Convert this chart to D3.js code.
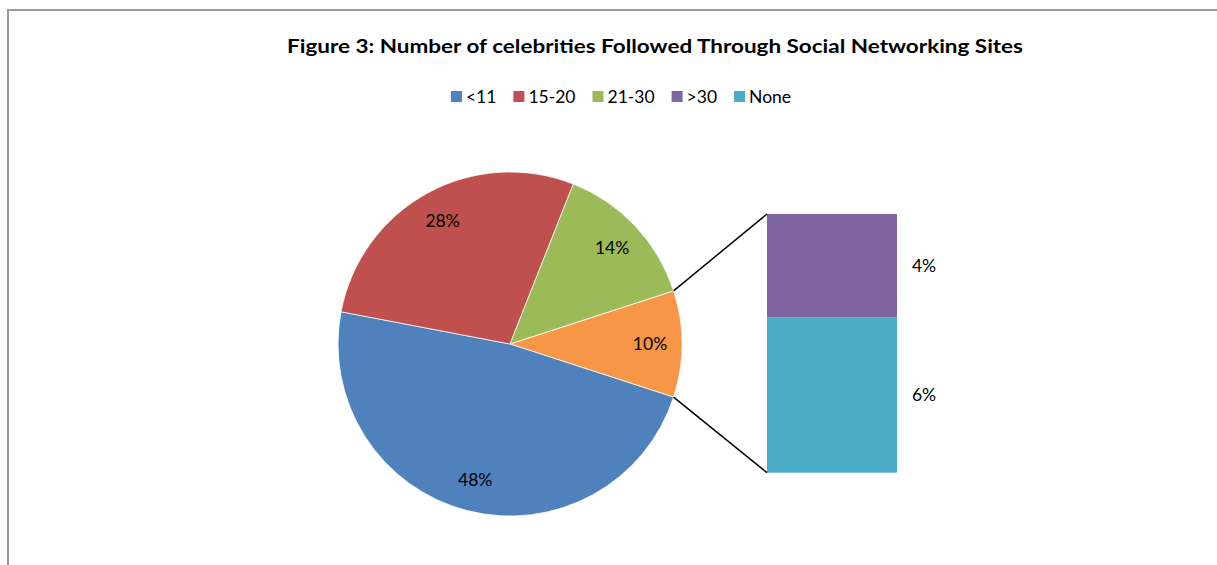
<!DOCTYPE html>
<html>
<head>
<meta charset="utf-8">
<script src="https://cdn.jsdelivr.net/npm/d3@7"></script>
<style>
  html, body { margin: 0; padding: 0; background: #fff; }
  svg { display: block; }
  text { font-family: Lato, "Open Sans", "Noto Sans", sans-serif; fill: #000; }
</style>
</head>
<body>
<svg id="chart" width="1217" height="565"></svg>
<script>
// Legend order and colours
const categories = ["<11", "15-20", "21-30", ">30", "None"];
const colors = ["#4F81BD", "#C0504D", "#9BBB59", "#8064A2", "#4BACC6"];

// Main pie: three categories plus an "Other" slice that is broken out into the bar
const pieLabels = ["Other", "<11", "15-20", "21-30"];
const pieValues = [10, 48, 28, 14];
const pieColors = ["#F79646", "#4F81BD", "#C0504D", "#9BBB59"];

// Secondary stacked bar: the contents of "Other", bottom to top
const barLabels = ["None", ">30"];
const barValues = [6, 4];
const barColors = ["#4BACC6", "#8064A2"];

const title = "Figure 3: Number of celebrities Followed Through Social Networking Sites";

const svg = d3.select("#chart");

// Chart frame
svg.append("rect")
  .attr("x", 8).attr("y", 10)
  .attr("width", 1400).attr("height", 800)
  .attr("fill", "none")
  .attr("stroke", "#9a9a9a")
  .attr("stroke-width", 2);

// Title
svg.append("text")
  .attr("x", 655).attr("y", 53)
  .attr("text-anchor", "middle")
  .attr("font-size", 18.5)
  .attr("font-weight", "bold")
  .attr("textLength", 736)
  .attr("lengthAdjust", "spacingAndGlyphs")
  .text(title);

// Legend, laid out from measured label widths and centred
const legend = svg.append("g");
const legendFont = 17.5;
const sq = 11, gapText = 4, gapItem = 17;
let lx = 0;
categories.forEach((c, i) => {
  const g = legend.append("g").attr("transform", `translate(${lx},0)`);
  g.append("rect").attr("x", 0).attr("y", -sq / 2).attr("width", sq).attr("height", sq).attr("fill", colors[i]);
  const t = g.append("text")
    .attr("x", sq + gapText).attr("y", 0)
    .attr("dy", "0.35em")
    .attr("font-size", legendFont)
    .text(c);
  lx += sq + gapText + t.node().getComputedTextLength() + gapItem;
});
const legendWidth = lx - gapItem;
legend.attr("transform", `translate(${621 - legendWidth / 2},96.5)`);

// Pie
const cx = 510, cy = 344, R = 172;
const labelR = 140;
// "Other" slice is centred on the right (3 o'clock); remaining slices follow clockwise
const otherAngle = pieValues[0] / d3.sum(pieValues) * 2 * Math.PI;
const start = Math.PI / 2 - otherAngle / 2;
const pie = d3.pie().sort(null).startAngle(start).endAngle(start + 2 * Math.PI);
const arcs = pie(pieValues);
const arc = d3.arc().innerRadius(0).outerRadius(R);
const labelArc = d3.arc().innerRadius(labelR).outerRadius(labelR);

const pg = svg.append("g").attr("transform", `translate(${cx},${cy})`);
pg.selectAll("path")
  .data(arcs)
  .join("path")
  .attr("d", arc)
  .attr("fill", (d, i) => pieColors[i])
  .attr("stroke", "#fff")
  .attr("stroke-width", 0.75);

pg.selectAll("text")
  .data(arcs)
  .join("text")
  .attr("transform", d => `translate(${labelArc.centroid(d)})`)
  .attr("text-anchor", "middle")
  .attr("dy", "0.35em")
  .attr("font-size", 17.5)
  .text(d => d.value + "%");

// Stacked bar for the broken-out slice
const barX0 = 767, barW = 130;
const y = d3.scaleLinear().domain([0, d3.sum(barValues)]).range([472.7, 214]);
const stacked = [];
let acc = 0;
barValues.forEach((v, i) => { stacked.push({ v, y0: acc, y1: acc + v, i }); acc += v; });

svg.selectAll("rect.bar")
  .data(stacked)
  .join("rect")
  .attr("class", "bar")
  .attr("x", barX0)
  .attr("width", barW)
  .attr("y", d => y(d.y1))
  .attr("height", d => y(d.y0) - y(d.y1))
  .attr("fill", d => barColors[d.i]);

svg.selectAll("text.barlabel")
  .data(stacked)
  .join("text")
  .attr("class", "barlabel")
  .attr("x", 924)
  .attr("y", d => (y(d.y0) + y(d.y1)) / 2)
  .attr("dy", "0.35em")
  .attr("text-anchor", "middle")
  .attr("font-size", 17.5)
  .text(d => d.v + "%");

// Connector lines from the edges of the "Other" slice to the bar corners
const otherArc = arcs[0];
const edgePoint = a => [cx + R * Math.sin(a), cy - R * Math.cos(a)];
const upperEdge = edgePoint(otherArc.startAngle), lowerEdge = edgePoint(otherArc.endAngle);
svg.append("line")
  .attr("x1", upperEdge[0]).attr("y1", upperEdge[1])
  .attr("x2", barX0).attr("y2", y(d3.sum(barValues)))
  .attr("stroke", "#000").attr("stroke-width", 1.5);
svg.append("line")
  .attr("x1", lowerEdge[0]).attr("y1", lowerEdge[1])
  .attr("x2", barX0).attr("y2", y(0))
  .attr("stroke", "#000").attr("stroke-width", 1.5);
</script>
</body>
</html>
